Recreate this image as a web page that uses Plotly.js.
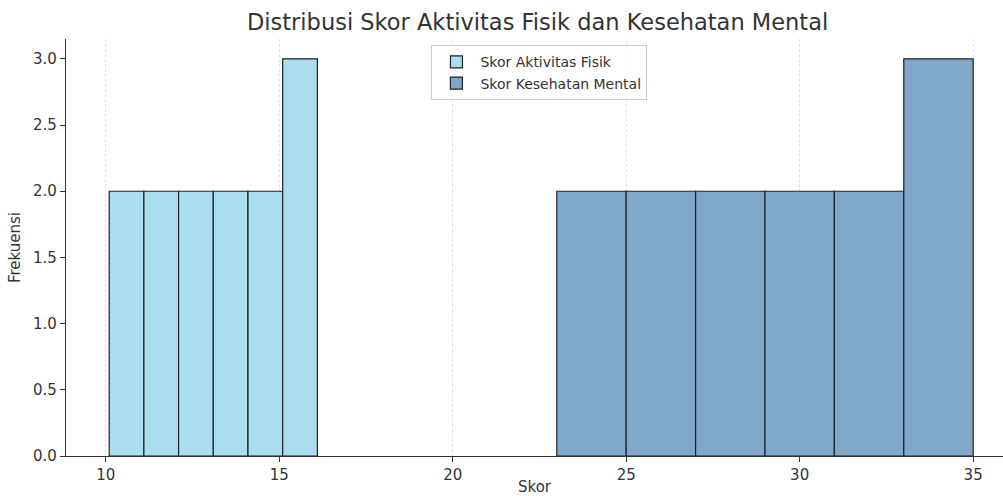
<!DOCTYPE html>
<html>
<head>
<meta charset="utf-8">
<script src="https://cdn.plot.ly/plotly-3.0.1.min.js"></script>
<style>html,body{margin:0;padding:0;background:#fff;}#chart{width:1003px;height:496px;}</style>
</head>
<body>
<div id="chart"></div>
<script>
// Bin edges and counts
const fisikEdges = [10.1, 11.1, 12.1, 13.1, 14.1, 15.1, 16.1];
const fisikCounts = [2, 2, 2, 2, 2, 3];
const mentalEdges = [23, 25, 27, 29, 31, 33, 35];
const mentalCounts = [2, 2, 2, 2, 2, 3];
const xTicks = [10, 15, 20, 25, 30, 35];
const yTicks = [0, 0.5, 1.0, 1.5, 2.0, 2.5, 3.0];
const yTickText = ['0.0', '0.5', '1.0', '1.5', '2.0', '2.5', '3.0'];

function binTrace(edges, counts, name, color) {
  const x = [], w = [];
  for (let i = 0; i < counts.length; i++) {
    x.push((edges[i] + edges[i + 1]) / 2);
    w.push(edges[i + 1] - edges[i]);
  }
  return {
    type: 'bar', x: x, y: counts, width: w, name: name,
    marker: {color: color, line: {color: '#222222', width: 1.2}},
    hoverinfo: 'x+y'
  };
}

const data = [
  binTrace(fisikEdges, fisikCounts, 'Skor Aktivitas Fisik', '#abddf1'),
  binTrace(mentalEdges, mentalCounts, 'Skor Kesehatan Mental', '#7ea7ca')
];

const font = 'DejaVu Sans, sans-serif';
const layout = {
  width: 1003, height: 496,
  margin: {l: 66, r: 0, t: 39, b: 40},
  paper_bgcolor: '#fff', plot_bgcolor: '#fff',
  font: {family: font, color: '#333', size: 15},
  title: {text: 'Distribusi Skor Aktivitas Fisik dan Kesehatan Mental', font: {family: font, size: 22.5, color: '#333'}, x: 0.536, xanchor: 'center', y: 0.955, yanchor: 'middle'},
  barmode: 'overlay', bargap: 0,
  showlegend: true,
  legend: {x: 0.39, y: 0.985, xanchor: 'left', yanchor: 'top', bgcolor: 'rgba(255,255,255,0.8)', bordercolor: '#cccccc', borderwidth: 1, font: {family: font, size: 14, color: '#333'}, itemwidth: 38, tracegroupgap: 0},
  xaxis: {
    range: [8.855, 35.86], tickvals: xTicks, ticktext: xTicks.map(String),
    showgrid: true, gridcolor: '#dcdcdc', griddash: '3px,2px', gridwidth: 0.8,
    zeroline: false, showline: true, linecolor: '#333', linewidth: 1.2,
    ticks: 'outside', ticklen: 5, tickcolor: '#333', tickfont: {family: font, size: 15, color: '#333'},
    title: {text: 'Skor', font: {family: font, size: 15, color: '#333'}, standoff: 6}
  },
  yaxis: {
    range: [0, 3.15], tickvals: yTicks, ticktext: yTickText,
    showgrid: false, zeroline: false, showline: true, linecolor: '#333', linewidth: 1.2,
    ticks: 'outside', ticklen: 5, tickcolor: '#333', tickfont: {family: font, size: 15, color: '#333'},
    title: {text: 'Frekuensi', font: {family: font, size: 15, color: '#333'}, standoff: 8}
  }
};

Plotly.newPlot('chart', data, layout, {displayModeBar: false, staticPlot: true});
</script>
</body>
</html>
